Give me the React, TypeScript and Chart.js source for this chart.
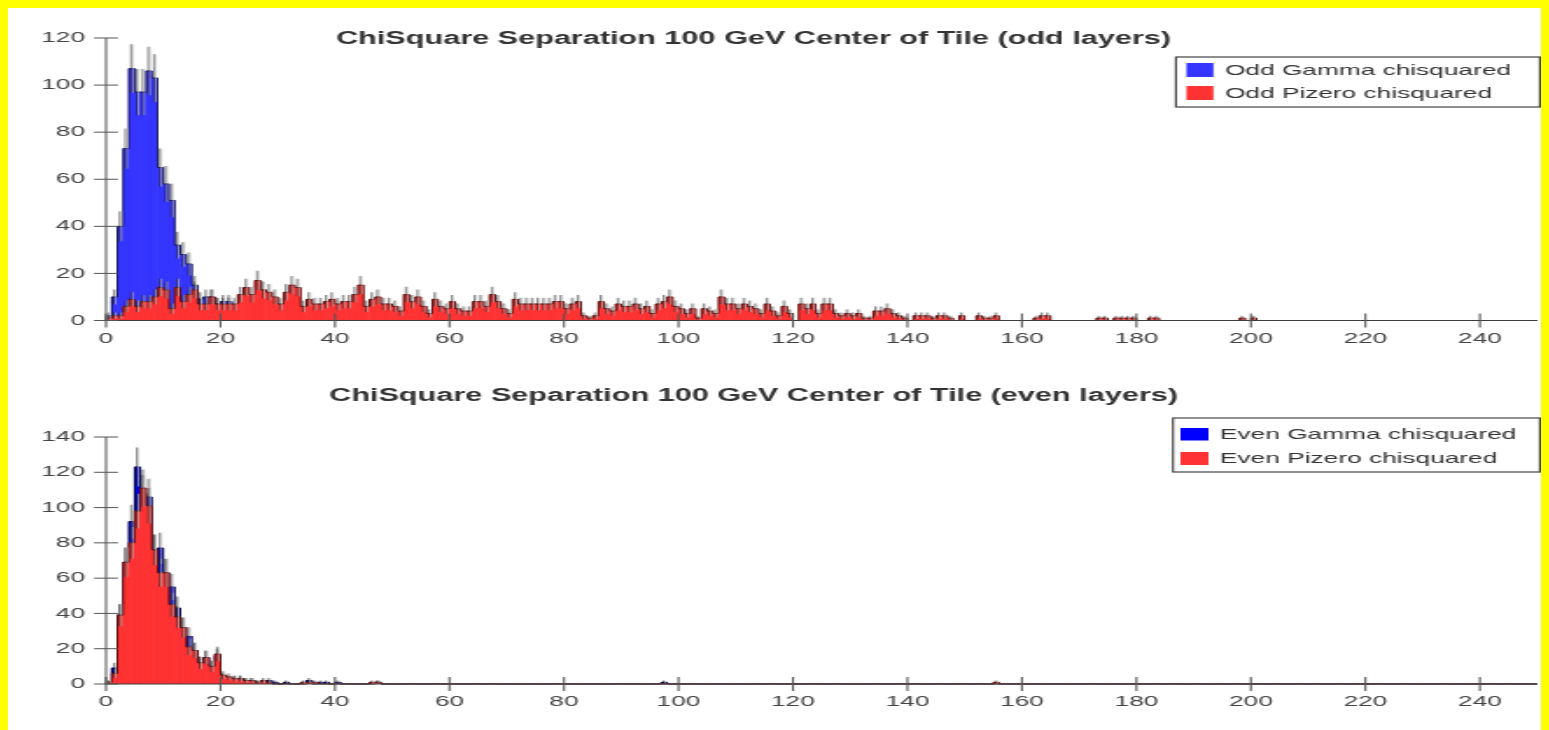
import React, { useEffect, useRef } from 'react';
import { Chart, registerables } from 'chart.js';

Chart.register(...registerables);

// Horizontal stretch applied to each canvas (the plots are drawn narrow, then widened).
const STRETCH = 1.75;
const CANVAS_W = 876;
const BIN_COUNT = 250; // unit-width bins from 0 to 250

// ---- Odd layers: counts per unit bin, starting at bin 0 ----
const oddGammaCounts = [2, 10, 40, 73, 107, 97, 97, 106, 103, 65, 58, 51, 32, 28, 24, 15, 9, 10, 10, 7, 8, 8];
const oddPizeroCounts = [
  1, 2, 2, 6, 9, 6, 8, 8, 10, 14,
  13, 5, 14, 8, 11, 13, 7, 7, 10, 7,
  7, 7, 7, 11, 14, 11, 17, 13, 12, 10,
  7, 12, 15, 14, 6, 9, 7, 7, 8, 9,
  7, 8, 8, 11, 15, 6, 9, 10, 7, 7,
  6, 4, 11, 8, 10, 6, 3, 9, 6, 5,
  8, 5, 4, 4, 8, 8, 6, 11, 8, 5,
  3, 9, 7, 7, 7, 7, 7, 7, 8, 8,
  5, 7, 8, 2, 1, 2, 8, 5, 4, 7,
  6, 6, 7, 5, 6, 3, 7, 8, 10, 6,
  5, 3, 5, 1, 5, 4, 3, 10, 7, 7,
  5, 7, 6, 5, 3, 7, 4, 2, 6, 3,
  0, 7, 5, 7, 3, 7, 7, 3, 2, 3,
  2, 3, 1, 1, 4, 4, 5, 3, 2, 1,
  0, 2, 2, 2, 1, 2, 2, 1, 0, 2,
  0, 0, 2, 1, 1, 2,
];
// isolated entries further out: [bin, count]
const oddPizeroTail: [number, number][] = [
  [162, 1], [163, 2], [164, 2], [173, 1], [174, 1], [176, 1], [177, 1],
  [178, 1], [179, 1], [182, 1], [183, 1], [198, 1], [200, 1],
];

// ---- Even layers ----
const evenGammaCounts = [
  1, 9, 39, 69, 92, 123, 108, 106, 76, 77,
  63, 55, 43, 32, 27, 19, 12, 15, 10, 16,
  4, 3, 3, 3, 2, 2, 1, 1, 2, 1,
  0, 1, 0, 0, 0, 2, 0, 1, 1, 0,
  1,
];
const evenGammaTail: [number, number][] = [[47, 1], [97, 1]];
const evenPizeroCounts = [
  1, 6, 39, 69, 80, 98, 111, 101, 76, 63,
  63, 45, 38, 32, 21, 19, 12, 15, 10, 17,
  5, 4, 3, 3, 2, 2, 1, 2, 1, 0,
  0, 0, 0, 0, 1, 1, 1,
];
const evenPizeroTail: [number, number][] = [[46, 1], [47, 1], [155, 1]];

const oddTitle = 'ChiSquare Separation 100 GeV Center of Tile (odd layers)';
const evenTitle = 'ChiSquare Separation 100 GeV Center of Tile (even layers)';

function fillBins(dense: number[], tail: [number, number][] = []): number[] {
  const bins = new Array(BIN_COUNT).fill(0);
  dense.forEach((v, i) => { bins[i] = v; });
  tail.forEach(([b, v]) => { bins[b] = v; });
  return bins;
}

type Series = { label: string; counts: number[]; fill: string; swatch: string; outline: string; order: number };
type LegendRow = { swatchY: number; swatchH: number; textY: number };
type LegendSpec = { x: number; y: number; w: number; h: number; swatchX: number; swatchW: number; textX: number; rows: LegendRow[] };
type PanelSpec = {
  title: string; titleY: number; yMax: number; height: number;
  padTop: number; xAxisHeight: number; tickPad: number;
  legend: LegendSpec; series: Series[];
};

const FONT = "'Liberation Sans', Arial, Helvetica, sans-serif";

const panels: PanelSpec[] = [
  {
    title: oddTitle, titleY: 31, yMax: 120, height: 365, padTop: 30, xAxisHeight: 52.5, tickPad: 9.5,
    legend: {
      x: 667.4, y: 49, w: 208, h: 50, swatchX: 673.4, swatchW: 15.4, textX: 695.4,
      rows: [{ swatchY: 55, swatchH: 14, textY: 62.5 }, { swatchY: 78, swatchH: 14, textY: 85.5 }],
    },
    series: [
      { label: 'Odd Gamma chisquared', counts: fillBins(oddGammaCounts), fill: '#3535ff', swatch: '#3535ff', outline: 'rgba(15,15,70,0.85)', order: 1 },
      { label: 'Odd Pizero chisquared', counts: fillBins(oddPizeroCounts, oddPizeroTail), fill: '#ff3333', swatch: '#ff3333', outline: 'rgba(70,10,10,0.85)', order: 0 },
    ],
  },
  {
    title: evenTitle, titleY: 23.5, yMax: 140, height: 357, padTop: 64, xAxisHeight: 46, tickPad: 8.5,
    legend: {
      x: 665.7, y: 45, w: 209.7, h: 54, swatchX: 670, swatchW: 16, textX: 692.6,
      rows: [{ swatchY: 55, swatchH: 12.5, textY: 61.5 }, { swatchY: 79, swatchH: 13, textY: 85.5 }],
    },
    series: [
      { label: 'Even Gamma chisquared', counts: fillBins(evenGammaCounts, evenGammaTail), fill: '#0000e6', swatch: '#0000ff', outline: 'rgba(0,0,50,0.85)', order: 1 },
      { label: 'Even Pizero chisquared', counts: fillBins(evenPizeroCounts, evenPizeroTail), fill: '#ff3333', swatch: '#ff3333', outline: 'rgba(70,10,10,0.85)', order: 0 },
    ],
  },
];

function line(ctx: CanvasRenderingContext2D, x1: number, y1: number, x2: number, y2: number) {
  ctx.beginPath();
  ctx.moveTo(x1, y1);
  ctx.lineTo(x2, y2);
  ctx.stroke();
}

// Step outline and sqrt(N) error bars, drawn right after each histogram's bars.
function histogramDecor(series: Series[]) {
  return {
    id: 'histogramDecor',
    afterDatasetDraw(chart: any, args: any) {
      const s = series[args.index];
      if (!s) return;
      const { ctx, chartArea } = chart;
      const xs = chart.scales.x;
      const ys = chart.scales.y;
      const base = ys.getPixelForValue(0);
      ctx.save();
      ctx.beginPath();
      ctx.rect(chartArea.left - 1, chartArea.top, chartArea.width + 2, chartArea.height + 1);
      ctx.clip();

      ctx.beginPath();
      ctx.moveTo(xs.getPixelForValue(0), base);
      s.counts.forEach((v, i) => {
        const py = ys.getPixelForValue(v);
        ctx.lineTo(xs.getPixelForValue(i), py);
        ctx.lineTo(xs.getPixelForValue(i + 1), py);
      });
      ctx.lineTo(xs.getPixelForValue(s.counts.length), base);
      ctx.strokeStyle = s.outline;
      ctx.lineWidth = 1;
      ctx.stroke();

      s.counts.forEach((v, i) => {
        if (v <= 0) return;
        const e = Math.sqrt(v);
        const xc = xs.getPixelForValue(i + 0.5);
        const yHi = ys.getPixelForValue(v + e);
        const yLo = ys.getPixelForValue(Math.max(0, v - e));
        ctx.strokeStyle = 'rgba(185,185,185,0.65)';
        ctx.lineWidth = 1.1;
        line(ctx, xc + 0.55, yLo, xc + 0.55, yHi);
        ctx.strokeStyle = 'rgba(30,30,30,0.65)';
        ctx.lineWidth = 0.8;
        line(ctx, xc - 0.45, yLo, xc - 0.45, yHi);
      });
      ctx.restore();
    },
  };
}

// Axis lines with tick marks that cross the axis.
const axesDecor = {
  id: 'axesDecor',
  afterDatasetsDraw(chart: any) {
    const { ctx } = chart;
    const xs = chart.scales.x;
    const ys = chart.scales.y;
    const x0 = xs.getPixelForValue(0);
    const x1 = xs.getPixelForValue(BIN_COUNT);
    const y0 = ys.getPixelForValue(0);
    const yTop = ys.getPixelForValue(ys.max);
    ctx.save();
    ctx.strokeStyle = '#3c3c3c';
    ctx.lineWidth = 1;
    line(ctx, x0, y0, x1, y0);
    ctx.strokeStyle = '#8a8a8a';
    ctx.lineWidth = 1.5;
    line(ctx, x0, y0 + 0.5, x0, yTop);
    ctx.strokeStyle = '#555';
    ctx.lineWidth = 1;
    ys.ticks.forEach((t: any) => {
      const py = ys.getPixelForValue(t.value);
      line(ctx, x0 - 6.9, py, x0 + 6.9, py);
    });
    ctx.lineWidth = 1.1;
    xs.ticks.forEach((t: any) => {
      const px = xs.getPixelForValue(t.value);
      line(ctx, px, y0 - 7, px, y0 + 7);
    });
    ctx.restore();
  },
};

// Title and boxed legend.
function frameDecor(spec: PanelSpec) {
  return {
    id: 'frameDecor',
    afterDraw(chart: any) {
      const { ctx } = chart;
      ctx.save();
      ctx.fillStyle = '#333';
      ctx.font = `bold 17.5px ${FONT}`;
      ctx.textAlign = 'center';
      ctx.textBaseline = 'middle';
      ctx.fillText(spec.title, 426, spec.titleY);

      const L = spec.legend;
      ctx.fillStyle = '#fff';
      ctx.fillRect(L.x, L.y, L.w, L.h);
      ctx.strokeStyle = '#444';
      ctx.lineWidth = 1.2;
      ctx.strokeRect(L.x, L.y, L.w, L.h);
      ctx.font = `15px ${FONT}`;
      ctx.textAlign = 'left';
      spec.series.forEach((s, i) => {
        const r = L.rows[i];
        ctx.fillStyle = s.swatch;
        ctx.fillRect(L.swatchX, r.swatchY, L.swatchW, r.swatchH);
        ctx.fillStyle = '#333';
        ctx.fillText(s.label, L.textX, r.textY);
      });
      ctx.restore();
    },
  };
}

function HistogramPanel({ spec }: { spec: PanelSpec }) {
  const ref = useRef<HTMLCanvasElement | null>(null);

  useEffect(() => {
    if (!ref.current) return;
    const datasets = spec.series.map((s) => ({
      label: s.label,
      data: s.counts.map((v, i) => ({ x: i + 0.5, y: v })),
      backgroundColor: s.fill,
      borderWidth: 0,
      order: s.order,
      grouped: false,
      barPercentage: 1,
      categoryPercentage: 1,
    }));
    const chart = new Chart(ref.current, {
      type: 'bar',
      data: { datasets } as any,
      options: {
        animation: false,
        responsive: false,
        devicePixelRatio: 1,
        events: [],
        layout: { padding: { top: spec.padTop, right: CANVAS_W - 873.8, left: 0, bottom: 0 } },
        plugins: { legend: { display: false }, title: { display: false }, tooltip: { enabled: false } },
        scales: {
          x: {
            type: 'linear',
            min: 0,
            max: BIN_COUNT,
            offset: false,
            grid: { display: false, drawTicks: false },
            border: { display: false },
            ticks: {
              stepSize: 20,
              includeBounds: false,
              autoSkip: false,
              maxRotation: 0,
              padding: spec.tickPad,
              color: '#444',
              font: { family: FONT, size: 15 },
            },
            afterFit: (scale: any) => { scale.height = spec.xAxisHeight; },
          },
          y: {
            type: 'linear',
            min: 0,
            max: spec.yMax,
            grid: { display: false, drawTicks: false },
            border: { display: false },
            ticks: {
              stepSize: 20,
              padding: 12,
              color: '#444',
              font: { family: FONT, size: 15 },
            },
            afterFit: (scale: any) => { scale.width = 56; },
          },
        },
      } as any,
      plugins: [histogramDecor(spec.series), axesDecor, frameDecor(spec)],
    });
    return () => chart.destroy();
  }, [spec]);

  return (
    <div style={{ height: spec.height, position: 'relative' }}>
      <canvas
        ref={ref}
        width={CANVAS_W}
        height={spec.height}
        style={{ display: 'block', transform: `scaleX(${STRETCH})`, transformOrigin: '0 0' }}
      />
    </div>
  );
}

export default function App() {
  useEffect(() => {
    document.body.style.background = '#ffff00';
    document.body.style.margin = '8px 8px 0 8px';
    document.documentElement.style.overflow = 'hidden';
  }, []);

  return (
    <div style={{ background: '#fff', height: 730, overflow: 'hidden' }}>
      {panels.map((p) => (
        <HistogramPanel key={p.title} spec={p} />
      ))}
    </div>
  );
}
